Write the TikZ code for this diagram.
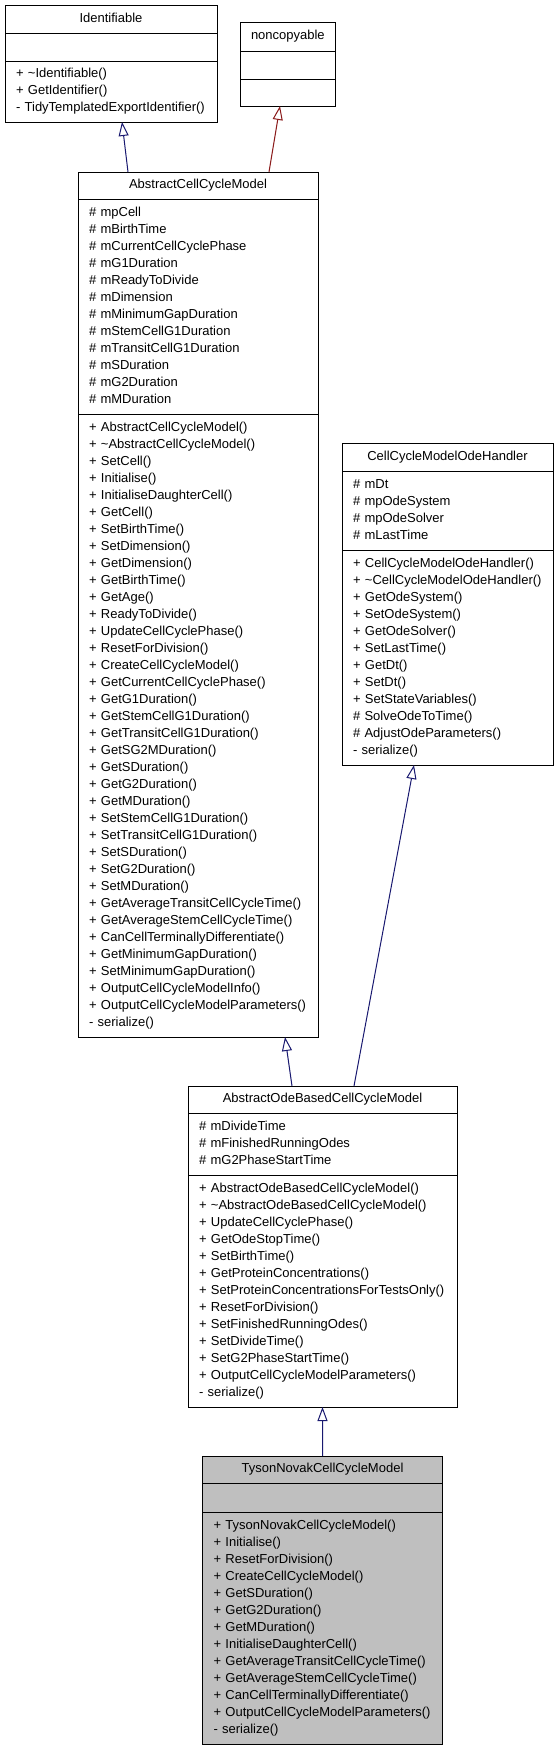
\documentclass[tikz,border=0pt]{standalone}
\usepackage{fontspec}
\setmainfont{Liberation Sans}
\usetikzlibrary{arrows.meta}
\definecolor{edgeblue}{RGB}{25,25,112}
\definecolor{edgered}{RGB}{139,26,26}
\definecolor{tysonfill}{RGB}{191,191,191}
\tikzset{
  sect/.style={draw=black, line width=1bp, rectangle, anchor=north west,
    inner xsep=11bp, inner ysep=0pt, outer sep=0pt, align=left,
    font=\fontsize{13bp}{17bp}\selectfont},
  ttl/.style={sect, align=center},
  inh/.style={-{Triangle[open,length=14bp,width=10bp]}, line width=1bp},
}
\begin{document}
\begin{tikzpicture}[x=1bp,y=-1bp]
\fill[white] (0,0) rectangle (559,1749);
\useasboundingbox (0,0) rectangle (559,1749);

% Identifiable
\node[ttl, text width=190bp, minimum height=28bp] (identT) at (5,5) {\strut Identifiable};
\node[sect, text width=190bp, minimum height=28bp] (identA) at (identT.south west) {};
\node[sect, text width=190bp, minimum height=61bp] (identM) at (identA.south west)
  {\strut + \textasciitilde Identifiable()\\\strut + GetIdentifier()\\\strut - TidyTemplatedExportIdentifier()};

% noncopyable
\node[ttl, text width=73bp, minimum height=29bp] (noncT) at (240,22) {\strut noncopyable};
\node[sect, text width=73bp, minimum height=28bp] (noncA) at (noncT.south west) {};
\node[sect, text width=73bp, minimum height=27bp] (noncM) at (noncA.south west) {};

% AbstractCellCycleModel
\node[ttl, text width=218bp, minimum height=27bp] (acmT) at (78,172) {\strut AbstractCellCycleModel};
\node[sect, text width=218bp, minimum height=215bp] (acmA) at (acmT.south west)
  {\strut \# mpCell\\\strut \# mBirthTime\\\strut \# mCurrentCellCyclePhase\\\strut \# mG1Duration\\
   \strut \# mReadyToDivide\\\strut \# mDimension\\\strut \# mMinimumGapDuration\\\strut \# mStemCellG1Duration\\
   \strut \# mTransitCellG1Duration\\\strut \# mSDuration\\\strut \# mG2Duration\\\strut \# mMDuration};
\node[sect, text width=218bp, minimum height=623bp] (acmM) at (acmA.south west)
  {\strut + AbstractCellCycleModel()\\\strut + \textasciitilde AbstractCellCycleModel()\\\strut + SetCell()\\
   \strut + Initialise()\\\strut + InitialiseDaughterCell()\\\strut + GetCell()\\\strut + SetBirthTime()\\
   \strut + SetDimension()\\\strut + GetDimension()\\\strut + GetBirthTime()\\\strut + GetAge()\\
   \strut + ReadyToDivide()\\\strut + UpdateCellCyclePhase()\\\strut + ResetForDivision()\\
   \strut + CreateCellCycleModel()\\\strut + GetCurrentCellCyclePhase()\\\strut + GetG1Duration()\\
   \strut + GetStemCellG1Duration()\\\strut + GetTransitCellG1Duration()\\\strut + GetSG2MDuration()\\
   \strut + GetSDuration()\\\strut + GetG2Duration()\\\strut + GetMDuration()\\
   \strut + SetStemCellG1Duration()\\\strut + SetTransitCellG1Duration()\\\strut + SetSDuration()\\
   \strut + SetG2Duration()\\\strut + SetMDuration()\\\strut + GetAverageTransitCellCycleTime()\\
   \strut + GetAverageStemCellCycleTime()\\\strut + CanCellTerminallyDifferentiate()\\
   \strut + GetMinimumGapDuration()\\\strut + SetMinimumGapDuration()\\\strut + OutputCellCycleModelInfo()\\
   \strut + OutputCellCycleModelParameters()\\\strut - serialize()};

% CellCycleModelOdeHandler
\node[ttl, text width=189bp, minimum height=28bp] (odeT) at (342,443) {\strut CellCycleModelOdeHandler};
\node[sect, text width=189bp, minimum height=79bp] (odeA) at (odeT.south west)
  {\strut \# mDt\\\strut \# mpOdeSystem\\\strut \# mpOdeSolver\\\strut \# mLastTime};
\node[sect, text width=189bp, minimum height=215bp] (odeM) at (odeA.south west)
  {\strut + CellCycleModelOdeHandler()\\\strut + \textasciitilde CellCycleModelOdeHandler()\\
   \strut + GetOdeSystem()\\\strut + SetOdeSystem()\\\strut + GetOdeSolver()\\\strut + SetLastTime()\\
   \strut + GetDt()\\\strut + SetDt()\\\strut + SetStateVariables()\\\strut \# SolveOdeToTime()\\
   \strut \# AdjustOdeParameters()\\\strut - serialize()};

% AbstractOdeBasedCellCycleModel
\node[ttl, text width=247bp, minimum height=27bp] (aobT) at (188,1086) {\strut AbstractOdeBasedCellCycleModel};
\node[sect, text width=247bp, minimum height=62bp] (aobA) at (aobT.south west)
  {\strut \# mDivideTime\\\strut \# mFinishedRunningOdes\\\strut \# mG2PhaseStartTime};
\node[sect, text width=247bp, minimum height=232bp] (aobM) at (aobA.south west)
  {\strut + AbstractOdeBasedCellCycleModel()\\\strut + \textasciitilde AbstractOdeBasedCellCycleModel()\\
   \strut + UpdateCellCyclePhase()\\\strut + GetOdeStopTime()\\\strut + SetBirthTime()\\
   \strut + GetProteinConcentrations()\\\strut + SetProteinConcentrationsForTestsOnly()\\
   \strut + ResetForDivision()\\\strut + SetFinishedRunningOdes()\\\strut + SetDivideTime()\\
   \strut + SetG2PhaseStartTime()\\\strut + OutputCellCycleModelParameters()\\\strut - serialize()};

% TysonNovakCellCycleModel
\node[ttl, fill=tysonfill, text width=218bp, minimum height=27bp] (tysT) at (202.5,1456) {\strut TysonNovakCellCycleModel};
\node[sect, fill=tysonfill, text width=218bp, minimum height=29bp] (tysA) at (tysT.south west) {};
\node[sect, fill=tysonfill, text width=218bp, minimum height=232bp] (tysM) at (tysA.south west)
  {\strut + TysonNovakCellCycleModel()\\\strut + Initialise()\\\strut + ResetForDivision()\\
   \strut + CreateCellCycleModel()\\\strut + GetSDuration()\\\strut + GetG2Duration()\\
   \strut + GetMDuration()\\\strut + InitialiseDaughterCell()\\\strut + GetAverageTransitCellCycleTime()\\
   \strut + GetAverageStemCellCycleTime()\\\strut + CanCellTerminallyDifferentiate()\\
   \strut + OutputCellCycleModelParameters()\\\strut - serialize()};

% inheritance connectors
\draw[inh, edgeblue] ([xshift=-70bp]acmT.north) -- ([xshift=11bp]identM.south);
\draw[inh, edgered] ([xshift=71bp]acmT.north) -- ([xshift=-7.5bp]noncM.south);
\draw[inh, edgeblue] ([xshift=-30.5bp]aobT.north) -- ([xshift=87bp]acmM.south);
\draw[inh, edgeblue] ([xshift=31.5bp]aobT.north) -- ([xshift=-33.5bp]odeM.south);
\draw[inh, edgeblue] (tysT.north) -- (aobM.south);
\end{tikzpicture}
\end{document}
